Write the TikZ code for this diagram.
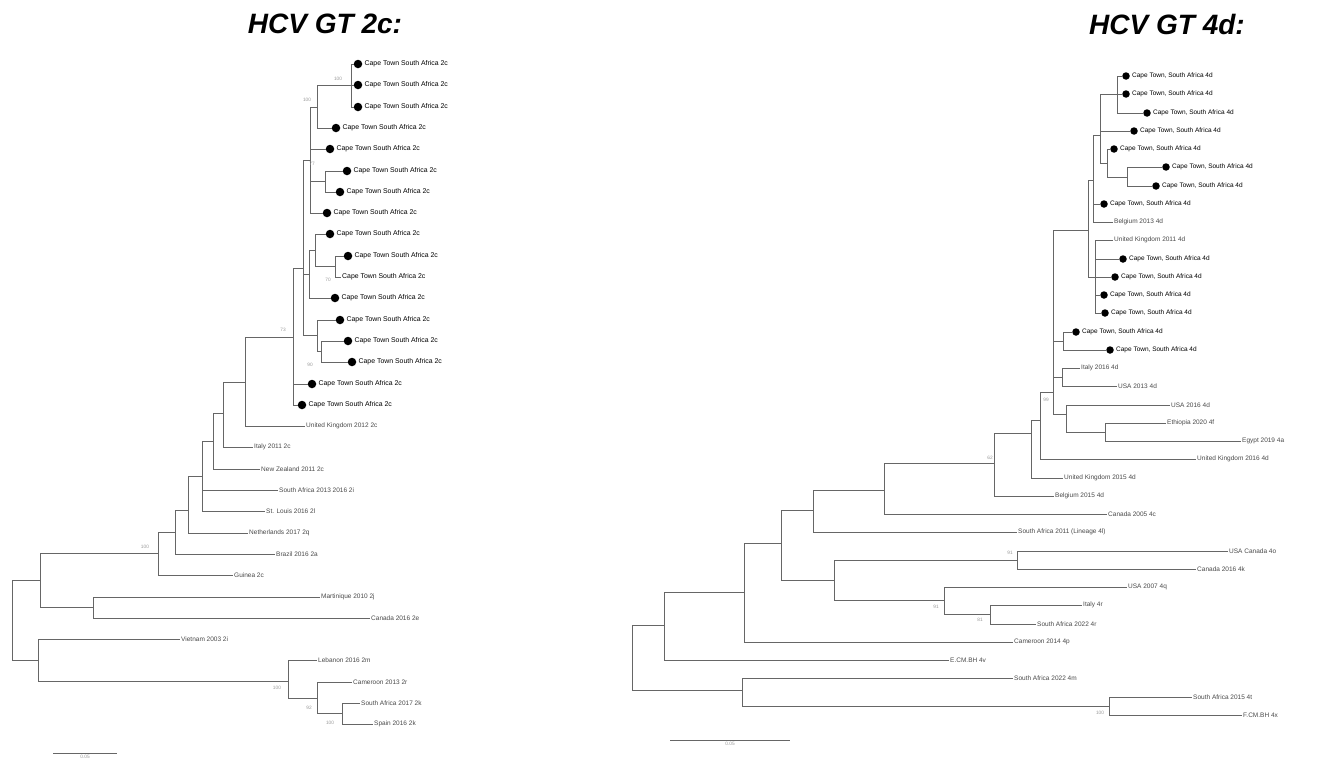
\documentclass[tikz,border=0pt]{standalone}
\usepackage{fontspec}
\setmainfont{Liberation Sans}
\usetikzlibrary{positioning}
\definecolor{treeln}{HTML}{666666}
\definecolor{refink}{HTML}{4A4A4A}
\definecolor{bsink}{HTML}{9A9A9A}
\tikzset{
  br/.style={draw=treeln, line width=1pt},
  dotl/.style={circle, fill=black, inner sep=0pt, minimum size=8.5pt},
  dotr/.style={dotl, minimum size=7.5pt},
  cpt/.style={font=\fontsize{6.5}{7}\selectfont, inner sep=1pt, text=black},
  cptl/.style={cpt, font=\fontsize{6.9}{7}\selectfont},
  ref/.style={font=\fontsize{6.5}{7}\selectfont, inner sep=1pt, text=refink, anchor=west},
  bs/.style={font=\fontsize{4.8}{5}\selectfont, inner sep=0pt, text=bsink},
  ttl/.style={font=\fontsize{28}{30}\selectfont\bfseries\itshape},
  sbar/.style={draw=treeln, line width=1pt},
}
\begin{document}
\begin{tikzpicture}[x=1pt, y=-1pt]
  \path[use as bounding box, fill=white] (0,0) rectangle (1319,764);
  \node[ttl] (ttl2c) at (325,24) {HCV GT 2c:};
  \node[ttl] (ttl4d) at (1167,24) {HCV GT 4d:};

  % GT 2c tree
  \foreach \n/\x/\y in {a1/358/64, a2/358/85, a3/358/107, a4/336/128, a5/330/149, a6/347/171,
      a7/340/192, a8/327/213, a9/330/234, a10/348/256, a12/335/298, a13/340/320, a14/348/341,
      a15/352/362, a16/312/384, a17/302/405} {
    \node[dotl] (\n) at (\x,\y) {};
    \node[cptl, right=1pt of \n] (t\n) {Cape Town South Africa 2c};
  }
  \node[ref, text=black, font=\fontsize{6.9}{7}\selectfont] (b11) at (341,277) {Cape Town South Africa 2c};
  \foreach \n/\x/\y/\t in {b18/305/426/{United Kingdom 2012 2c}, b19/253/447/{Italy 2011 2c},
      b20/260/469/{New Zealand 2011 2c}, b21/278/490/{South Africa 2013 2016 2i},
      b22/265/511/{St. Louis 2016 2l}, b23/248/533/{Netherlands 2017 2q}, b24/275/554/{Brazil 2016 2a},
      b25/233/575/{Guinea 2c}, b26/320/597/{Martinique 2010 2j}, b27/370/618/{Canada 2016 2e},
      b28/180/639/{Vietnam 2003 2i}, b29/317/660/{Lebanon 2016 2m}, b30/352/682/{Cameroon 2013 2r},
      b31/360/703/{South Africa 2017 2k}, b32/373/724/{Spain 2016 2k}}
    \node[ref] (\n) at (\x,\y) {\t};
  \foreach \n/\x/\y in {n1/351/85, n2/317/107, n3/325/181, ca/310/160, n5/335/266, cb/315/250,
      cc/309/274, n6/321/351, cd/317/335, cTop/303/268, cu/293/337, cv/245/382, cw/223/413,
      cx1/213/441, cx2/202/476, cx3/188/510, cx4/175/532, cx5/158/553, r1/40/580, r2/93/607,
      root/12/620, r3/38/660, r4/288/681, r5/317/698, r6/342/713}
    \coordinate (\n) at (\x,\y);
  \foreach \p/\c in {n1/a1, n1/a2, n1/a3, n2/n1, n2/a4, n3/a6, n3/a7, ca/n2, ca/a5, ca/n3, ca/a8,
      n5/a10, n5/b11, cb/a9, cb/n5, cc/cb, cc/a12, n6/a14, n6/a15, cd/a13, cd/n6, cTop/ca, cTop/cc,
      cTop/cd, cu/cTop, cu/a16, cu/a17, cv/cu, cv/b18, cw/cv, cw/b19, cx1/cw, cx1/b20, cx2/cx1,
      cx2/b21, cx2/b22, cx3/cx2, cx3/b23, cx4/cx3, cx4/b24, cx5/cx4, cx5/b25, r1/cx5, r1/r2,
      r2/b26, r2/b27, root/r1, root/r3, r3/b28, r3/r4, r4/b29, r4/r5, r5/b30, r5/r6, r6/b31, r6/b32}
    \draw[br] (\p) |- (\c);

  % GT 4d tree
  \foreach \n/\x/\y in {e1/1126/76, e2/1126/94, e3/1147/113, e4/1134/131, e5/1114/149,
      e6/1166/167, e7/1156/186, e8/1104/204, e11/1123/259, e12/1115/277, e13/1104/295,
      e14/1105/313, e15/1076/332, e16/1110/350} {
    \node[dotr] (\n) at (\x,\y) {};
    \node[cpt, right=1pt of \n] (t\n) {Cape Town, South Africa 4d};
  }
  \foreach \n/\x/\y/\t in {f9/1113/222/{Belgium 2013 4d}, f10/1113/240/{United Kingdom 2011 4d},
      f17/1080/368/{Italy 2016 4d}, f18/1117/386/{USA 2013 4d}, f19/1170/405/{USA 2016 4d},
      f20/1166/423/{Ethiopia 2020 4f}, f21/1241/441/{Egypt 2019 4a},
      f22/1196/459/{United Kingdom 2016 4d}, f23/1063/478/{United Kingdom 2015 4d},
      f24/1054/496/{Belgium 2015 4d}, f25/1107/514/{Canada 2005 4c},
      f26/1017/532/{South Africa 2011 (Lineage 4l)}, f27/1228/551/{USA Canada 4o},
      f28/1196/569/{Canada 2016 4k}, f29/1127/587/{USA 2007 4q}, f30/1082/605/{Italy 4r},
      f31/1036/624/{South Africa 2022 4r}, f32/1013/642/{Cameroon 2014 4p},
      f33/949/660/{E.CM.BH 4v}, f34/1013/678/{South Africa 2022 4m},
      f35/1192/697/{South Africa 2015 4t}, f36/1242/715/{F.CM.BH 4x}}
    \node[ref] (\n) at (\x,\y) {\t};
  \foreach \n/\x/\y in {t1/1117/94, t3/1127/177, t2/1107/163, t4/1100/135, t5/1093/180,
      t6/1095/277, tCT/1088/230, t7/1063/341, s2/1062/377, s3b/1105/432, s3/1066/414,
      s1/1053/392, s4/1040/420, s5/1031/433, u1/994/463, u2/884/490, u3/813/510, w1/1017/560,
      w3/990/614, w2/944/600, u4/834/580, u5/781/543, u6/744/592, u7/664/625, v1/1109/706,
      v0/742/690, root2/632/657}
    \coordinate (\n) at (\x,\y);
  \foreach \p/\c in {t1/e1, t1/e2, t1/e3, t3/e6, t3/e7, t2/e5, t2/t3, t4/t1, t4/e4, t4/t2,
      t5/t4, t5/e8, t5/f9, t6/f10, t6/e11, t6/e12, t6/e13, t6/e14, tCT/t5, tCT/t6, t7/e15, t7/e16,
      s2/f17, s2/f18, s3b/f20, s3b/f21, s3/f19, s3/s3b, s1/tCT, s1/t7, s1/s2, s1/s3, s4/s1,
      s4/f22, s5/s4, s5/f23, u1/s5, u1/f24, u2/u1, u2/f25, u3/u2, u3/f26, w1/f27, w1/f28,
      w3/f30, w3/f31, w2/f29, w2/w3, u4/w1, u4/w2, u5/u3, u5/u4, u6/u5, u6/f32, u7/u6, u7/f33,
      v1/f35, v1/f36, v0/f34, v0/v1, root2/u7, root2/v0}
    \draw[br] (\p) |- (\c);

  % bootstrap values
  \foreach \n/\x/\y/\v in {k1/338/79/100, k2/307/100/100, k3/312/164/77, k4/328/280/70,
      k5/310/365/90, k6/283/330/73, k7/145/547/100, k8/277/688/100, k9/309/708/92, k10/330/723/100,
      k11/1046/400/99, k12/990/458/62, k13/1010/553/91, k14/936/607/91, k15/980/620/81,
      k16/1100/713/100}
    \node[bs] (\n) at (\x,\y) {\v};

  % scale bars
  \coordinate (sbl0) at (53,753);
  \coordinate (sbl1) at (117,753);
  \draw[sbar] (sbl0) -- (sbl1) node[midway, below=1.5pt, bs] (sblt) {0.05};
  \coordinate (sbr0) at (670,740);
  \coordinate (sbr1) at (790,740);
  \draw[sbar] (sbr0) -- (sbr1) node[midway, below=2pt, bs] (sbrt) {0.05};
\end{tikzpicture}
\end{document}
